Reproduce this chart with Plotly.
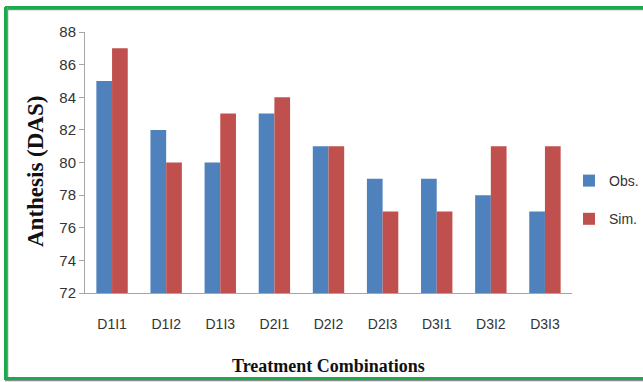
import plotly.graph_objects as go

categories = ["D1I1", "D1I2", "D1I3", "D2I1", "D2I2", "D2I3", "D3I1", "D3I2", "D3I3"]
observed = [85, 82, 80, 83, 81, 79, 79, 78, 77]
simulated = [87, 80, 83, 84, 81, 77, 77, 81, 81]
y_ticks = [72, 74, 76, 78, 80, 82, 84, 86, 88]

W, H = 643, 382
L, R, T, B = 85, 71, 32, 89
pw, ph = W - L - R, H - T - B


def px(x):
    return (x - L) / pw


def py(y):
    return (H - B - y) / ph


fig = go.Figure()
fig.add_trace(go.Bar(name="Obs.", x=categories, y=observed, marker_color="#4f81bd",
                     marker_line_width=0, legendgroup="obs"))
fig.add_trace(go.Bar(name="Sim.", x=categories, y=simulated, marker_color="#c0504d",
                     marker_line_width=0, legendgroup="sim"))

# green frame (top, left, bottom) with a faint grey shadow
for x0, y0, x1, y1, col, w in [
    (5, 9.5, 700, 9.5, "#8a8a8a", 1.5),
    (5, 7.5, 700, 7.5, "#1aab4f", 3),
    (7.5, 7, 7.5, 380, "#8a8a8a", 1.5),
    (5.5, 7, 5.5, 380, "#1aab4f", 3),
    (5, 380.5, 700, 380.5, "#8a8a8a", 1.5),
    (5, 378.5, 700, 378.5, "#1aab4f", 3),
]:
    fig.add_shape(type="line", xref="paper", yref="paper",
                  x0=px(x0), x1=px(x1), y0=py(y0), y1=py(y1),
                  line=dict(color=col, width=w), layer="below")

# axis titles
fig.add_annotation(text="<b>Treatment Combinations</b>", xref="paper", yref="paper",
                   x=px(328), y=py(366), showarrow=False, xanchor="center", yanchor="middle",
                   font=dict(family="Liberation Serif, Times New Roman", size=18, color="#111"))
fig.add_annotation(text="<b>Anthesis (DAS)</b>", xref="paper", yref="paper",
                   x=px(35), y=py(172), showarrow=False, textangle=-90,
                   xanchor="center", yanchor="middle",
                   font=dict(family="Liberation Serif, Times New Roman", size=23, color="#111"))

fig.update_layout(
    width=W, height=H,
    margin=dict(l=L, r=R, t=T, b=B, autoexpand=False),
    paper_bgcolor="white", plot_bgcolor="white",
    barmode="group", bargap=0.42, bargroupgap=0,
    showlegend=True,
    legend=dict(x=px(569), y=py(165), xanchor="left", yanchor="top",
                font=dict(family="Liberation Sans Narrow, Liberation Sans", size=14, color="#333"),
                tracegroupgap=17, itemwidth=30, bgcolor="rgba(0,0,0,0)"),
    xaxis=dict(
        automargin=False,
        showline=True, linecolor="#a6a6a6", linewidth=1,
        ticks="", showgrid=False,
        tickfont=dict(family="Liberation Sans Narrow, Liberation Sans", size=14, color="#333"),
        ticklabelstandoff=18,
    ),
    yaxis=dict(
        automargin=False,
        range=[72, 88], tickvals=y_ticks,
        showline=True, linecolor="#a6a6a6", linewidth=1,
        ticks="outside", ticklen=5, tickcolor="#a6a6a6",
        showgrid=False, zeroline=False,
        tickfont=dict(family="Liberation Sans Narrow, Liberation Sans", size=15, color="#333"),
    ),
)

fig.write_html("out.html")
